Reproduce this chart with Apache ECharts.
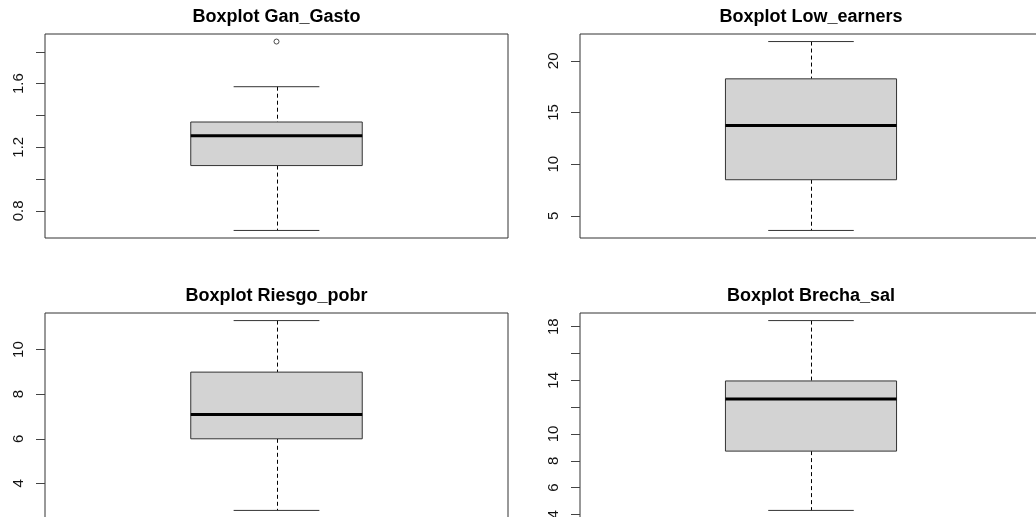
<!DOCTYPE html>
<html>
<head>
<meta charset="utf-8">
<script src="https://cdn.jsdelivr.net/npm/echarts@6/dist/echarts.min.js"></script>
<style>
  html, body { margin: 0; padding: 0; background: #fff; }
  #chart { width: 1036px; height: 517px; }
</style>
</head>
<body>
<div id="chart"></div>
<script>
// ---- data ----
const categories    = ['Gan_Gasto', 'Low_earners', 'Riesgo_pobr', 'Brecha_sal'];
const lowerWhisker  = [0.677, 3.58, 2.79, 4.30];
const q1Values      = [1.085, 8.49, 6.00, 8.72];
const medianValues  = [1.273, 13.75, 7.09, 12.60];
const q3Values      = [1.359, 18.26, 8.99, 13.95];
const upperWhisker  = [1.581, 21.87, 11.30, 18.45];
const outlierValues = [[1.865], [], [], []];
const tickValues    = [
  [0.8, 1.0, 1.2, 1.4, 1.6, 1.8],
  [5, 10, 15, 20],
  [4, 6, 8, 10],
  [4, 6, 8, 10, 12, 14, 16, 18]
];
const tickLabels    = [
  [0.8, 1.2, 1.6],
  [5, 10, 15, 20],
  [4, 6, 8, 10],
  [4, 6, 8, 10, 14, 18]
];

// ---- layout ----
const grids = [
  { left: 45,  top: 34,  right: 528, bottom: 279 },
  { left: 580, top: 34,  right: -6,  bottom: 279 },
  { left: 45,  top: 313, right: 528, bottom: -1 },
  { left: 580, top: 313, right: -6,  bottom: -1 }
];
const titleCenters = [[276.5, 34], [811, 34], [276.5, 313], [811, 313]];
const FONT = '"Liberation Sans", Arial, sans-serif';

const chart = echarts.init(document.getElementById('chart'), null, { renderer: 'canvas' });

const titles = [], xAxes = [], yAxes = [], series = [];
categories.forEach((name, i) => {
  const lo = Math.min(lowerWhisker[i], ...outlierValues[i]);
  const hi = Math.max(upperWhisker[i], ...outlierValues[i]);
  const ext = (hi - lo) * 0.04;

  titles.push({
    text: 'Boxplot ' + name,
    left: titleCenters[i][0],
    top: titleCenters[i][1] - 26,
    textAlign: 'center',
    padding: 0,
    textStyle: { fontFamily: FONT, fontWeight: 'bold', fontSize: 18, color: '#000' }
  });

  xAxes.push({
    gridIndex: i, type: 'value', min: 0.46, max: 1.54, show: false
  });
  yAxes.push({
    gridIndex: i, type: 'value', min: lo - ext, max: hi + ext,
    axisLine: { show: false },
    splitLine: { show: false },
    axisTick: { show: true, length: 9, customValues: tickValues[i],
                lineStyle: { color: '#444', width: 1 } },
    axisLabel: { show: true, customValues: tickLabels[i], rotate: 90, margin: 19,
                 fontFamily: FONT, fontSize: 15, color: '#111',
                 formatter: v => String(v) }
  });

  series.push({
    type: 'custom',
    xAxisIndex: i, yAxisIndex: i,
    data: [[1, lowerWhisker[i], q1Values[i], medianValues[i], q3Values[i], upperWhisker[i]]],
    renderItem: function (params, api) {
      const x = api.value(0);
      const lw = api.value(1), q1 = api.value(2), md = api.value(3), q3 = api.value(4), uw = api.value(5);
      const bl = api.coord([x - 0.2, q1]);
      const tr = api.coord([x + 0.2, q3]);
      const mdL = api.coord([x - 0.2, md]);
      const mdR = api.coord([x + 0.2, md]);
      const c = api.coord([x, 0]);
      const cx = Math.round(c[0]) + 0.5;
      const yLw = api.coord([x, lw])[1], yUw = api.coord([x, uw])[1];
      const capL = api.coord([x - 0.1, 0])[0], capR = api.coord([x + 0.1, 0])[0];
      return {
        type: 'group',
        children: [
          { type: 'line', shape: { x1: cx, y1: yUw, x2: cx, y2: tr[1] },
            style: { stroke: '#000', lineWidth: 1, lineDash: [4, 3] } },
          { type: 'line', shape: { x1: cx, y1: bl[1], x2: cx, y2: yLw },
            style: { stroke: '#000', lineWidth: 1, lineDash: [4, 3] } },
          { type: 'line', shape: { x1: capL, y1: yUw, x2: capR, y2: yUw },
            style: { stroke: '#333', lineWidth: 1 } },
          { type: 'line', shape: { x1: capL, y1: yLw, x2: capR, y2: yLw },
            style: { stroke: '#333', lineWidth: 1 } },
          { type: 'rect', shape: { x: bl[0], y: tr[1], width: tr[0] - bl[0], height: bl[1] - tr[1] },
            style: { fill: '#D3D3D3', stroke: '#333', lineWidth: 1 } },
          { type: 'line', shape: { x1: mdL[0], y1: mdL[1], x2: mdR[0], y2: mdR[1] },
            style: { stroke: '#000', lineWidth: 3 } }
        ]
      };
    },
    silent: true
  });

  if (outlierValues[i].length) {
    series.push({
      type: 'scatter',
      xAxisIndex: i, yAxisIndex: i,
      data: outlierValues[i].map(v => [1, v]),
      symbol: 'circle', symbolSize: 5,
      itemStyle: { color: '#fff', borderColor: '#222', borderWidth: 1 },
      silent: true
    });
  }
});

chart.setOption({
  animation: false,
  backgroundColor: '#fff',
  title: titles,
  grid: grids.map(g => Object.assign({ show: true, borderColor: '#333', borderWidth: 1,
                                       backgroundColor: 'transparent', containLabel: false,
                                       outerBoundsMode: 'none' }, g)),
  xAxis: xAxes,
  yAxis: yAxes,
  series: series
});
</script>
</body>
</html>
